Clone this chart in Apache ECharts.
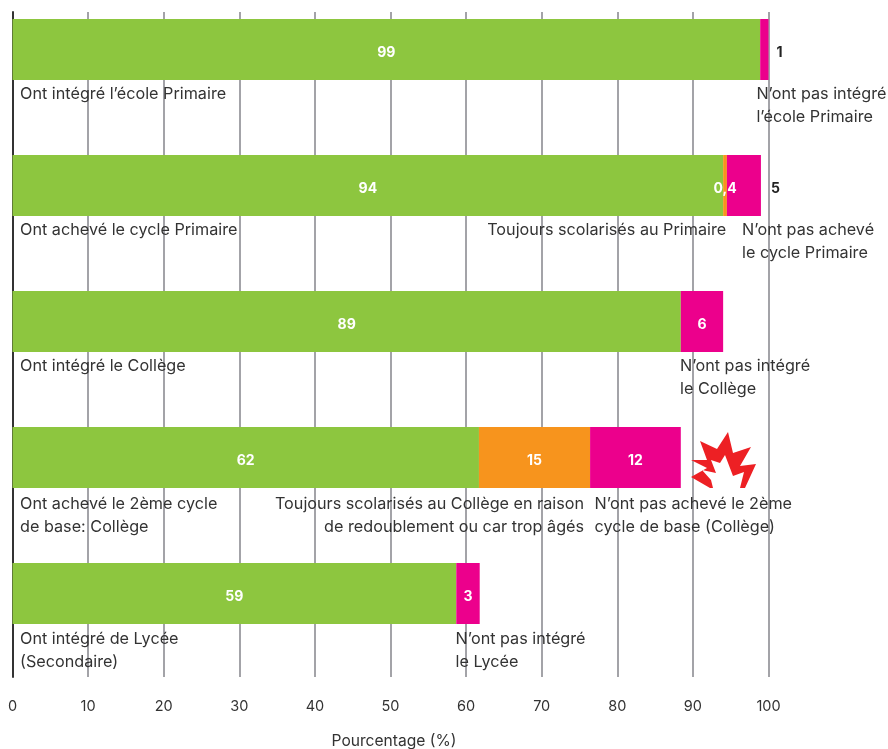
<!DOCTYPE html>
<html><head><meta charset="utf-8">
<style>html,body{margin:0;padding:0;background:#fff}#c{width:888px;height:749px}</style>
<script src="https://cdn.jsdelivr.net/npm/echarts@6/dist/echarts.min.js"></script>
</head><body><div id="c"></div>
<script>
const categories = ['Primaire','Cycle primaire','Collège','Cycle de base','Lycée'];
const enrolledEnd = [98.9, 94, 88.4, 61.7, 58.7];
const stillIn = [0, 0.5, 0, 14.7, 0];
const notIn = [1.1, 4.5, 5.6, 12, 3.1];
const enrolledLabels = ['99','94','89','62','59'];
const stillLabels = ['','0,4','','15',''];
const notLabels = ['1','5','6','12','3'];
const ticks = [0,10,20,30,40,50,60,70,80,90,100];
const annotations = [
  ['Ont intégré l’école Primaire', 1, 0, 'left'],
  ['N’ont pas intégré\nl’école Primaire', 98.4, 0, 'left'],
  ['Ont achevé le cycle Primaire', 1, 1, 'left'],
  ['Toujours scolarisés au Primaire', 94.4, 1, 'right'],
  ['N’ont pas achevé\nle cycle Primaire', 96.5, 1, 'left'],
  ['Ont intégré le Collège', 1, 2, 'left'],
  ['N’ont pas intégré\nle Collège', 88.3, 2, 'left'],
  ['Ont achevé le 2ème cycle\nde base: Collège', 1, 3, 'left'],
  ['Toujours scolarisés au Collège en raison\nde redoublement ou car trop âgés', 75.6, 3, 'right'],
  ['N’ont pas achevé le 2ème\ncycle de base (Collège)', 77, 3, 'left'],
  ['Ont intégré de Lycée\n(Secondaire)', 1, 4, 'left'],
  ['N’ont pas intégré\nle Lycée', 58.6, 4, 'left']
];
const FONT = 'Inter';
const GREEN='#8dc63f', ORANGE='#f7941d', PINK='#ec008c';
const TXT='#333333';
const rowShift=[0,0,0,2,1];
const chart = echarts.init(document.getElementById('c'),null,{renderer:'canvas'});
const outsideDist = {'1':8,'5':10};
function barLabel(arr, color){
  return {show:true,fontFamily:FONT,fontWeight:'bold',fontSize:14,color,offset:[0,3.5],
    formatter:p=>arr[p.dataIndex]};
}
chart.setOption({
  animation:false,
  backgroundColor:'#fff',
  grid:[
    {left:12.5,width:756,top:12,height:665,outerBoundsMode:'none'},
    {left:12.5,width:756,top:49.5,height:544,outerBoundsMode:'none'}
  ],
  xAxis:[
    {gridIndex:0,type:'value',min:0,max:100,interval:10,
     axisLine:{show:false},axisTick:{show:false},
     splitLine:{show:true,lineStyle:{color:'#a3a3a8',width:2}},
     axisLabel:{margin:22,fontFamily:FONT,fontSize:14.5,color:TXT,
       formatter:v=>ticks.includes(v)?String(v):''},
     name:'Pourcentage (%)',nameLocation:'middle',nameGap:56,
     nameTextStyle:{fontFamily:FONT,fontSize:15.6,color:TXT,padding:[0,0,0,7]}},
    {gridIndex:1,type:'value',min:0,max:100,show:false}
  ],
  yAxis:[
    {gridIndex:0,type:'value',min:0,max:1,show:true,
     axisLine:{show:true,lineStyle:{color:'#333',width:2}},axisTick:{show:false},axisLabel:{show:false},splitLine:{show:false}},
    {gridIndex:1,type:'category',inverse:true,boundaryGap:false,data:categories,show:false}
  ],
  series:[
    {type:'bar',name:'Ont',xAxisIndex:1,yAxisIndex:1,stack:'a',barWidth:61,clip:false,data:enrolledEnd,
     itemStyle:{color:GREEN},label:{...barLabel(enrolledLabels,'#fff'),position:'inside'}},
    {type:'bar',name:'Toujours',xAxisIndex:1,yAxisIndex:1,stack:'a',barWidth:61,clip:false,data:stillIn,
     itemStyle:{color:ORANGE},label:{...barLabel(stillLabels,'#fff'),position:'inside'}},
    {type:'bar',name:'N’ont pas',xAxisIndex:1,yAxisIndex:1,stack:'a',barWidth:61,clip:false,
     data:notIn.map((v,i)=>({value:v,
       label:outsideDist[notLabels[i]]?{position:'right',distance:outsideDist[notLabels[i]],color:'#222'}:{position:'inside',color:'#fff'}})),
     itemStyle:{color:PINK},label:barLabel(notLabels,'#fff')},
    {type:'scatter',xAxisIndex:1,yAxisIndex:1,symbolSize:0,silent:true,z:6,clip:false,
     itemStyle:{opacity:1},
     data:annotations.map(a=>({value:[a[1],a[2]],
       label:{show:true,position:'inside',formatter:a[0],align:a[3],verticalAlign:'top',
         offset:[0,33+rowShift[a[2]]],fontFamily:FONT,fontSize:16.2,lineHeight:23,color:TXT}}))}
  ],
  graphic:[{type:'polygon',z:5,silent:true,
    shape:{points:[[728,432],[733,453],[751,447],[740,466],[756,464],[745,488],[740,488],[744,472],[733,476],[725,455],[720,463],[711,460],[716,473],[702,470],[711,480],[713,488],[710,488],[691,477],[707,468],[691,460],[707,460],[700,441],[717,449]]},
    style:{fill:'#ed2024'}}]
});
</script></body></html>
